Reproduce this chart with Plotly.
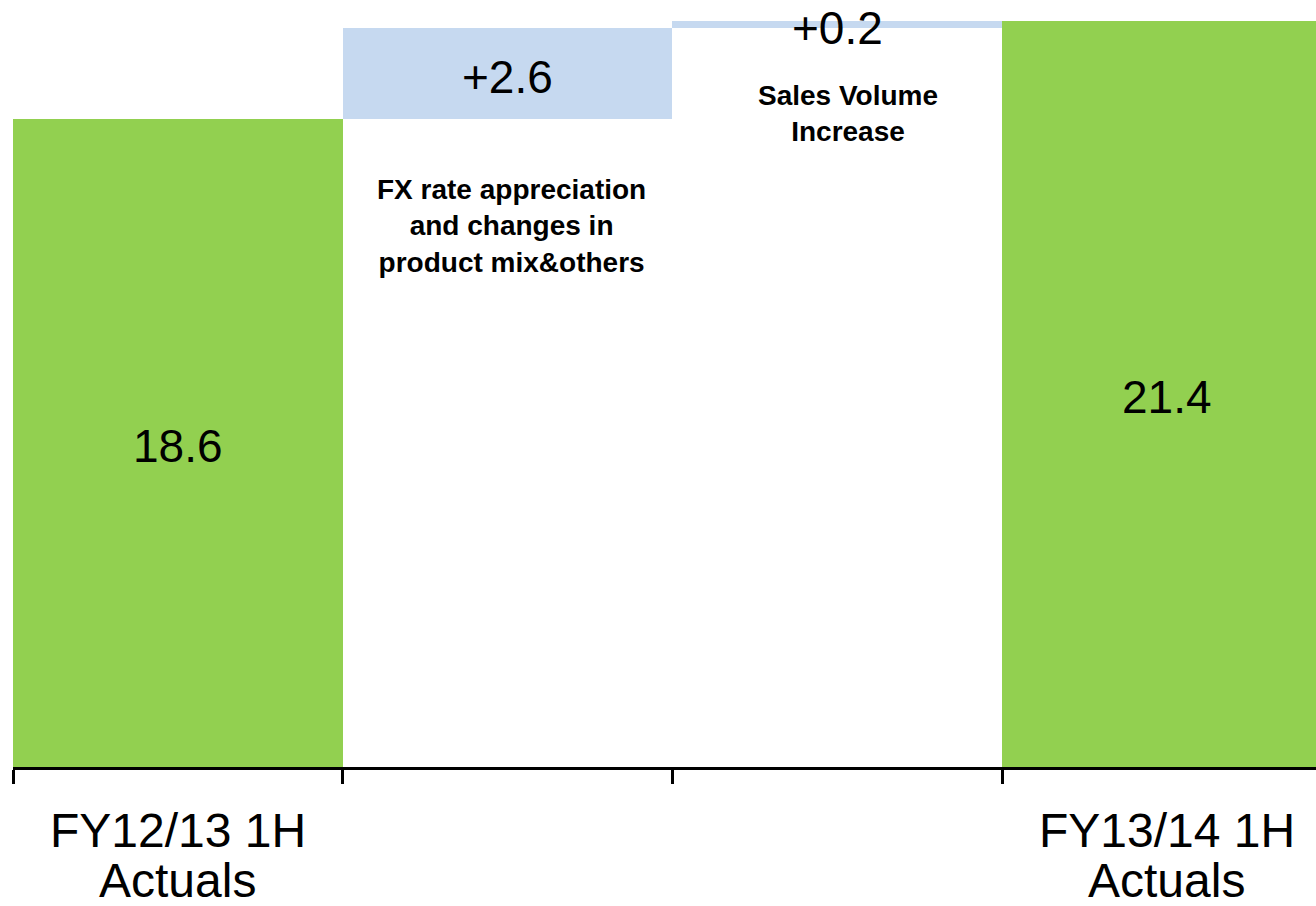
import plotly.graph_objects as go

# Bridge of operating results between the two half-year periods
categories = [
    "FY12/13 1H Actuals",
    "FX rate appreciation and changes in product mix&others",
    "Sales Volume Increase",
    "FY13/14 1H Actuals",
]
values = [18.6, 2.6, 0.2, 21.4]
bases = [0.0, 18.6, 21.2, 0.0]
value_labels = ["18.6", "+2.6", "+0.2", "21.4"]
axis_label_lines = [["FY12/13 1H", "Actuals"], [], [], ["FY13/14 1H", "Actuals"]]
captions = [
    "",
    "FX rate appreciation<br>and changes in<br>product mix&others",
    "Sales Volume<br>Increase",
    "",
]

GREEN = "#92D050"
BLUE = "#C6D9F0"
bar_colors = [GREEN, BLUE, BLUE, GREEN]
FONT = "Liberation Sans, Arial, sans-serif"

x_pos = list(range(len(categories)))

fig = go.Figure()
fig.add_trace(
    go.Bar(
        x=x_pos,
        y=values,
        base=bases,
        width=1.0,
        marker=dict(color=bar_colors, line=dict(width=0)),
        hovertext=categories,
        showlegend=False,
    )
)

annotations = []

# value labels in the middle of each bar
for i, (v, b, lab) in enumerate(zip(values, bases, value_labels)):
    annotations.append(
        dict(
            x=i, y=b + v / 2, xref="x", yref="y",
            text=lab, showarrow=False,
            font=dict(family=FONT, size=46, color="black"),
            xanchor="center", yanchor="middle", yshift=-3,
        )
    )

# bold captions hanging below the floating bars
caption_xshift = [0, 4, 11, 0]
caption_yshift = [0, -53, -50, 0]
for i, cap in enumerate(captions):
    if not cap:
        continue
    annotations.append(
        dict(
            x=i, y=bases[i], xref="x", yref="y",
            text="<b>" + cap + "</b>", showarrow=False,
            font=dict(family=FONT, size=28, color="black"),
            xanchor="center", yanchor="top", yshift=caption_yshift[i],
            xshift=caption_xshift[i], align="center",
        )
    )

# category labels under the axis, one line per annotation
line_yshift = [-63, -113]
for i, lines in enumerate(axis_label_lines):
    for j, txt in enumerate(lines):
        annotations.append(
            dict(
                x=i, y=0, xref="x", yref="paper",
                text=txt, showarrow=False,
                font=dict(family=FONT, size=48, color="black"),
                xanchor="center", yanchor="middle", yshift=line_yshift[j],
            )
        )

boundaries = [i - 0.5 for i in range(len(categories) + 1)]

fig.update_layout(
    width=1316,
    height=906,
    margin=dict(l=13, r=0, t=0, b=139),
    paper_bgcolor="white",
    plot_bgcolor="white",
    bargap=0,
    annotations=annotations,
    xaxis=dict(
        range=[-0.5, 3.452],
        tickmode="array",
        tickvals=boundaries,
        showticklabels=False,
        ticks="outside",
        ticklen=14,
        tickwidth=3,
        tickcolor="black",
        showline=True,
        linecolor="black",
        linewidth=3,
        showgrid=False,
        zeroline=False,
    ),
    yaxis=dict(
        range=[0, 22.01],
        visible=False,
        showgrid=False,
        zeroline=False,
    ),
)

fig.write_html("out.html")
